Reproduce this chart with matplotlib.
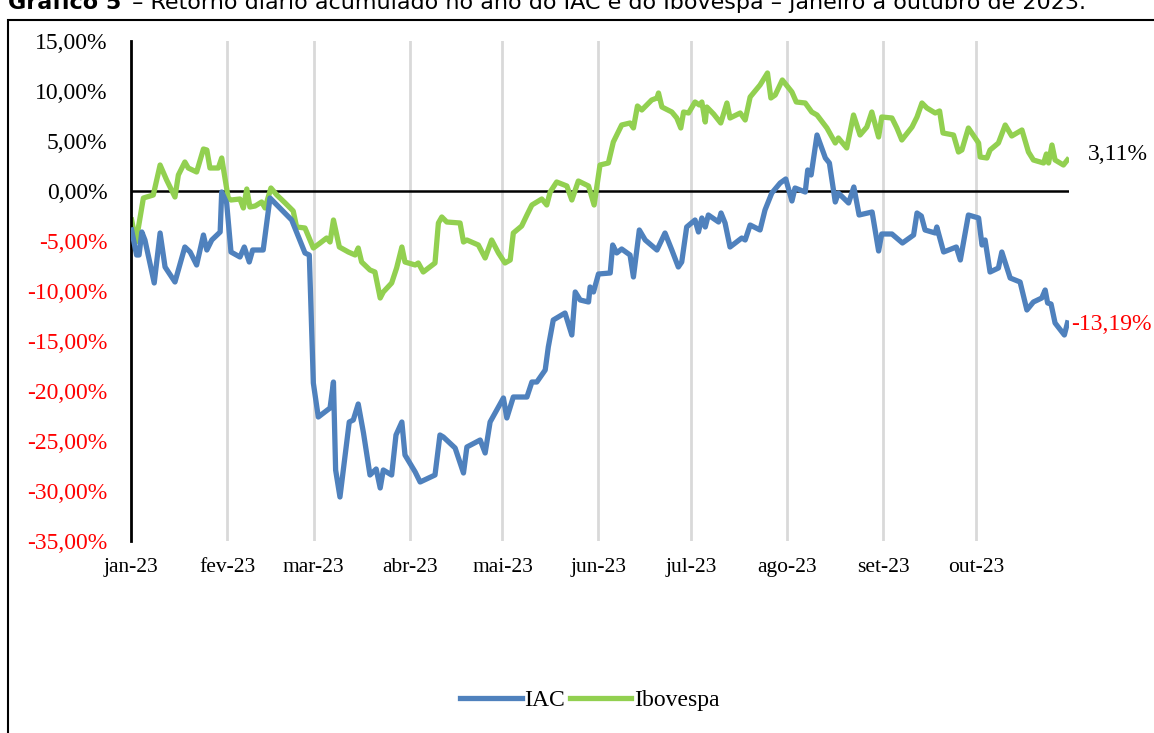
import numpy as np
import pandas as pd
import matplotlib
matplotlib.use("Agg")
import matplotlib.pyplot as plt
from matplotlib.patches import Rectangle

# dias corridos desde 01/01/2023 e retorno acumulado (%)
dia_iac = [0.2, 1.8, 2.6, 3.5, 4.5, 7.5, 9.4, 11.0, 14.2, 17.4, 19.1, 21.2, 23.4, 24.5, 26.1,
           28.8, 29.3, 30.9, 32.3, 35.2, 36.6, 38.2, 39.3, 42.7, 44.9, 51.9, 56.2, 57.6, 58.9,
           60.5, 64.3, 65.4, 66.1, 67.5, 70.5, 71.8, 73.4, 75.1, 77.2, 79.2, 80.5, 81.5, 84.2,
           85.6, 87.5, 88.5, 91.8, 93.4, 98.2, 99.8, 100.9, 104.7, 107.4, 108.5, 112.8, 114.4,
           116.0, 120.3, 121.4, 123.5, 127.9, 129.5, 131.1, 133.8, 134.8, 136.4, 140.2, 142.4,
           143.5, 145.1, 147.8, 148.3, 149.4, 151.0, 154.8, 155.6, 156.9, 158.5, 161.2, 162.3,
           164.2, 166.1, 169.9, 172.5, 174.7, 176.8, 177.9, 179.5, 182.2, 183.3, 184.4, 185.5,
           186.5, 189.8, 190.6, 191.9, 193.5, 197.3, 198.4, 200.0, 203.2, 204.8, 207.0, 209.7,
           211.5, 213.5, 214.5, 217.8, 218.6, 219.7, 221.6, 224.3, 225.6, 227.5, 228.5, 231.8,
           233.5, 235.2, 239.4, 241.5, 242.5, 245.8, 249.2, 252.8, 253.9, 255.3, 256.5, 259.8,
           260.3, 262.5, 266.6, 267.9, 270.5, 273.8, 274.9, 275.9, 277.5, 280.2, 281.3, 284.0,
           287.2, 289.4, 291.5, 294.2, 295.3, 296.1, 297.2, 298.5, 301.5, 302.5]
iac = [-3.9, -6.4, -6.4, -4.1, -4.9, -9.2, -4.2, -7.6, -9.1, -5.6, -6.1, -7.4, -4.4, -5.9, -4.9,
       -4.1, -0.1, -1.2, -6.1, -6.6, -5.6, -7.1, -5.9, -5.9, -0.7, -2.9, -6.2, -6.4, -19.2,
       -22.6, -21.7, -19.1, -27.9, -30.6, -23.1, -22.9, -21.3, -24.2, -28.4, -27.8, -29.7, -27.9, -28.4,
       -24.4, -23.1, -26.4, -28.1, -29.1, -28.4, -24.4, -24.6, -25.7, -28.2, -25.6, -24.9, -26.2,
       -23.1, -20.7, -22.7, -20.6, -20.6, -19.1, -19.1, -17.9, -15.6, -12.9, -12.2, -14.4,
       -10.1, -10.9, -11.1, -9.6, -10.1, -8.3, -8.2, -5.4, -6.2, -5.8, -6.4, -8.6,
       -3.9, -4.9, -5.9, -4.2, -5.9, -7.6, -7.1, -3.6, -2.9, -4.1, -2.7, -3.6,
       -2.4, -3.1, -2.2, -3.2, -5.6, -4.7, -4.9, -3.4, -3.9, -1.9, -0.2, 0.8,
       1.2, -1.0, 0.3, -0.1, 2.1, 1.6, 5.6, 3.3, 2.8, -1.1, -0.2, -1.2,
       0.4, -2.4, -2.1, -6.0, -4.3, -4.3, -5.2, -4.4, -2.2, -2.5, -3.9, -4.2,
       -3.6, -6.1, -5.6, -6.9, -2.4, -2.7, -5.4, -4.9, -8.1, -7.7, -6.1, -8.7,
       -9.1, -11.9, -11.1, -10.7, -9.9, -11.2, -11.3, -13.2, -14.4, -13.19]

dia_ibov = [0.2, 1.6, 4.0, 5.1, 7.2, 9.4, 11.5, 14.2, 15.3, 17.4, 18.5, 21.2, 23.4, 24.5, 25.5,
            28.2, 29.3, 31.4, 32.3, 35.2, 36.3, 37.4, 38.4, 40.1, 42.2, 43.3, 45.2, 47.1, 49.8,
            52.4, 53.5, 56.2, 58.9, 61.1, 63.2, 64.3, 65.4, 67.3, 70.2, 72.4, 73.4, 74.5, 77.2,
            78.8, 80.5, 81.5, 84.2, 85.8, 87.5, 88.5, 91.8, 92.8, 94.4, 98.2, 99.3, 100.4, 102.0,
            106.3, 107.4, 108.5, 112.2, 114.4, 116.5, 118.7, 120.8, 122.5, 123.5, 126.2, 127.9,
            129.5, 132.7, 134.3, 135.4, 137.5, 140.8, 142.4, 144.5, 147.8, 149.6, 151.5, 154.2,
            155.8, 158.5, 161.2, 162.3, 163.6, 165.0, 168.2, 169.9, 170.4, 171.5, 174.7, 176.3,
            177.6, 178.5, 180.1, 182.2, 183.6, 184.4, 185.5, 186.0, 188.2, 190.5, 192.5, 193.5,
            196.8, 198.4, 200.0, 203.2, 205.6, 206.7, 208.1, 210.4, 213.5, 214.9, 217.8, 219.9,
            221.6, 224.8, 227.5, 228.5, 231.2, 233.4, 235.5, 237.7, 239.3, 241.5, 242.5, 245.8,
            247.4, 249.0, 252.3, 253.9, 255.5, 257.1, 259.8, 261.2, 262.3, 265.7, 267.3, 268.4,
            270.5, 273.8, 274.3, 276.5, 277.5, 280.2, 282.4, 284.5, 287.8, 289.9, 291.5, 294.8,
            295.7, 296.4, 297.5, 298.5, 301.2, 302.5]
ibov = [-2.9, -5.1, -0.7, -0.6, -0.4, 2.6, 1.1, -0.6, 1.6, 2.9, 2.3, 1.9, 4.2, 4.1, 2.3,
        2.3, 3.3, -0.7, -0.9, -0.8, -1.7, 0.2, -1.6, -1.5, -1.1, -1.7, 0.3, -0.4, -1.2,
        -2.0, -3.6, -3.7, -5.7, -5.2, -4.7, -5.1, -2.9, -5.6, -6.1, -6.4, -5.7, -7.1, -7.9,
        -8.1, -10.7, -10.1, -9.2, -7.7, -5.6, -7.1, -7.4, -7.2, -8.1, -7.2, -3.2, -2.6, -3.1,
        -3.2, -5.1, -4.9, -5.4, -6.7, -4.9, -6.2, -7.2, -6.9, -4.2, -3.5, -2.4,
        -1.4, -0.8, -1.4, -0.1, 0.9, 0.5, -0.9, 1.0, 0.5, -1.4, 2.6, 2.8,
        4.9, 6.6, 6.8, 6.3, 8.5, 8.1, 9.1, 9.3, 9.8, 8.4, 7.9, 7.3,
        6.3, 7.9, 7.8, 8.9, 8.6, 8.9, 6.9, 8.4, 7.7, 6.8, 8.8, 7.3,
        7.8, 7.1, 9.4, 10.6, 11.8, 9.3, 9.6, 11.1, 9.9, 8.9, 8.8, 7.9,
        7.6, 6.3, 4.8, 5.3, 4.3, 7.6, 5.6, 6.4, 7.9, 5.4, 7.4, 7.3,
        6.3, 5.1, 6.4, 7.4, 8.8, 8.3, 7.8, 8.0, 5.8, 5.6, 3.9, 4.1,
        6.3, 4.8, 3.4, 3.3, 4.1, 4.8, 6.6, 5.5, 6.1, 3.9, 3.1, 2.8,
        3.7, 2.8, 4.6, 3.1, 2.6, 3.11]

meses = ["jan-23", "fev-23", "mar-23", "abr-23", "mai-23", "jun-23",
         "jul-23", "ago-23", "set-23", "out-23"]

inicio = pd.Timestamp("2023-01-01")
datas_iac = inicio + pd.to_timedelta(dia_iac, unit="D")
datas_ibov = inicio + pd.to_timedelta(dia_ibov, unit="D")
inicio_meses = pd.date_range("2023-01-01", periods=10, freq="MS")

serif = "Liberation Serif"
azul = "#4f81bd"
verde = "#92d050"

fig = plt.figure(figsize=(11.54, 7.33), dpi=100)
ax = fig.add_axes([131 / 1154, 1 - 541 / 733, (1069 - 131) / 1154, 500 / 733])

# moldura do gráfico (cortada na direita e embaixo)
fig.patches.append(Rectangle((8 / 1154, -0.1), 1.2, 1 - 20 / 733 + 0.1,
                             transform=fig.transFigure, fill=False,
                             edgecolor="black", linewidth=1.5))

# título (aparece cortado no topo, como no original)
t1 = fig.text(8 / 1154, 1 - 9 / 733, "Gráfico 5", fontsize=16, fontweight="bold",
              va="baseline", ha="left")
fig.canvas.draw()
bb = t1.get_window_extent()
fig.text((bb.x1 + 4) / 1154, 1 - 9 / 733,
         " – Retorno diário acumulado no ano do IAC e do Ibovespa – janeiro a outubro de 2023.",
         fontsize=16, va="baseline", ha="left")

for d in inicio_meses[1:]:
    ax.axvline(d, color="#d9d9d9", linewidth=2, zorder=0)
ax.axhline(0, color="black", linewidth=1.8, zorder=1)

ax.plot(datas_iac, iac, color=azul, linewidth=3.8, label="IAC", zorder=3)
ax.plot(datas_ibov, ibov, color=verde, linewidth=3.8, label="Ibovespa", zorder=2)

ax.set_xlim(inicio, pd.Timestamp("2023-10-31"))
ax.set_ylim(-35, 15)
ax.set_yticks(np.arange(-35, 16, 5))
ax.set_yticklabels([f"{v:.2f}%".replace(".", ",") for v in np.arange(-35, 16, 5)],
                   fontfamily=serif, fontsize=17)
for lbl, v in zip(ax.get_yticklabels(), np.arange(-35, 16, 5)):
    lbl.set_color("red" if v < 0 else "black")
ax.set_xticks(inicio_meses)
ax.set_xticklabels(meses, fontfamily=serif, fontsize=15.5)
ax.tick_params(axis="y", length=0, pad=17)
ax.tick_params(axis="x", length=0, pad=12)

for s in ["top", "right", "bottom"]:
    ax.spines[s].set_visible(False)
ax.spines["left"].set_linewidth(2)

ax.annotate("3,11%", xy=(datas_ibov[-1], ibov[-1]), xytext=(15, 4),
            textcoords="offset points", fontfamily=serif, fontsize=17,
            color="black", va="center", annotation_clip=False)
ax.annotate("-13,19%", xy=(datas_iac[-1], iac[-1]), xytext=(3, -1),
            textcoords="offset points", fontfamily=serif, fontsize=17,
            color="red", va="center", annotation_clip=False)

fig.legend(loc="center", bbox_to_anchor=(590 / 1154, 1 - 700 / 733), ncol=2,
           frameon=False, prop={"family": serif, "size": 17},
           handlelength=2.6, handletextpad=0.12, columnspacing=0.2)

fig.savefig("out.png", dpi=100)
